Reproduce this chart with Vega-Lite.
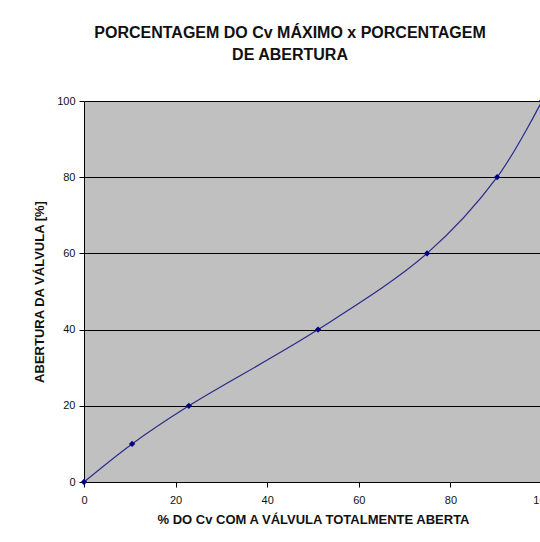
{
  "$schema": "https://vega.github.io/schema/vega-lite/v6.json",
  "autosize": "none",
  "width": 458,
  "height": 381,
  "padding": {"left": 84, "top": 101, "right": 0, "bottom": 60},
  "background": "white",
  "title": {
    "text": ["PORCENTAGEM DO Cv MÁXIMO x PORCENTAGEM", "DE ABERTURA"],
    "font": "Liberation Sans",
    "fontSize": 16,
    "fontWeight": "bold",
    "color": "#111111",
    "anchor": "middle",
    "dx": -23,
    "offset": 32,
    "lineHeight": 22
  },
  "config": {
    "view": {"fill": "#C0C0C0", "stroke": "#808080", "strokeWidth": 1},
    "axis": {
      "labelFont": "Liberation Sans",
      "titleFont": "Liberation Sans",
      "labelFontSize": 11,
      "titleFontSize": 13,
      "titleFontWeight": "bold",
      "labelColor": "#111111",
      "titleColor": "#111111",
      "domainColor": "#000000",
      "tickColor": "#000000",
      "tickSize": 5,
      "labelFlush": false
    }
  },
  "data": {
    "values": [
      {"cv": 0, "abertura": 0},
      {"cv": 10.5, "abertura": 10},
      {"cv": 22.9, "abertura": 20},
      {"cv": 51.1, "abertura": 40},
      {"cv": 74.9, "abertura": 60},
      {"cv": 90.2, "abertura": 80},
      {"cv": 100, "abertura": 100}
    ]
  },
  "encoding": {
    "x": {
      "field": "cv",
      "type": "quantitative",
      "scale": {"domain": [0, 100], "nice": false},
      "axis": {
        "values": [0, 20, 40, 60, 80, 100],
        "grid": false,
        "title": "% DO Cv COM A VÁLVULA TOTALMENTE ABERTA",
        "labelPadding": 7,
        "titlePadding": 8
      }
    },
    "y": {
      "field": "abertura",
      "type": "quantitative",
      "scale": {"domain": [0, 100], "nice": false},
      "axis": {
        "values": [0, 20, 40, 60, 80, 100],
        "grid": true,
        "gridColor": "#000000",
        "gridWidth": 1,
        "title": "ABERTURA DA VÁLVULA [%]",
        "labelPadding": 4,
        "titlePadding": 10
      }
    }
  },
  "layer": [
    {
      "mark": {"type": "line", "interpolate": "catmull-rom", "color": "#2a2a8a", "strokeWidth": 1.2}
    },
    {
      "mark": {"type": "point", "shape": "diamond", "filled": true, "color": "#000080", "size": 40, "opacity": 1}
    }
  ]
}
